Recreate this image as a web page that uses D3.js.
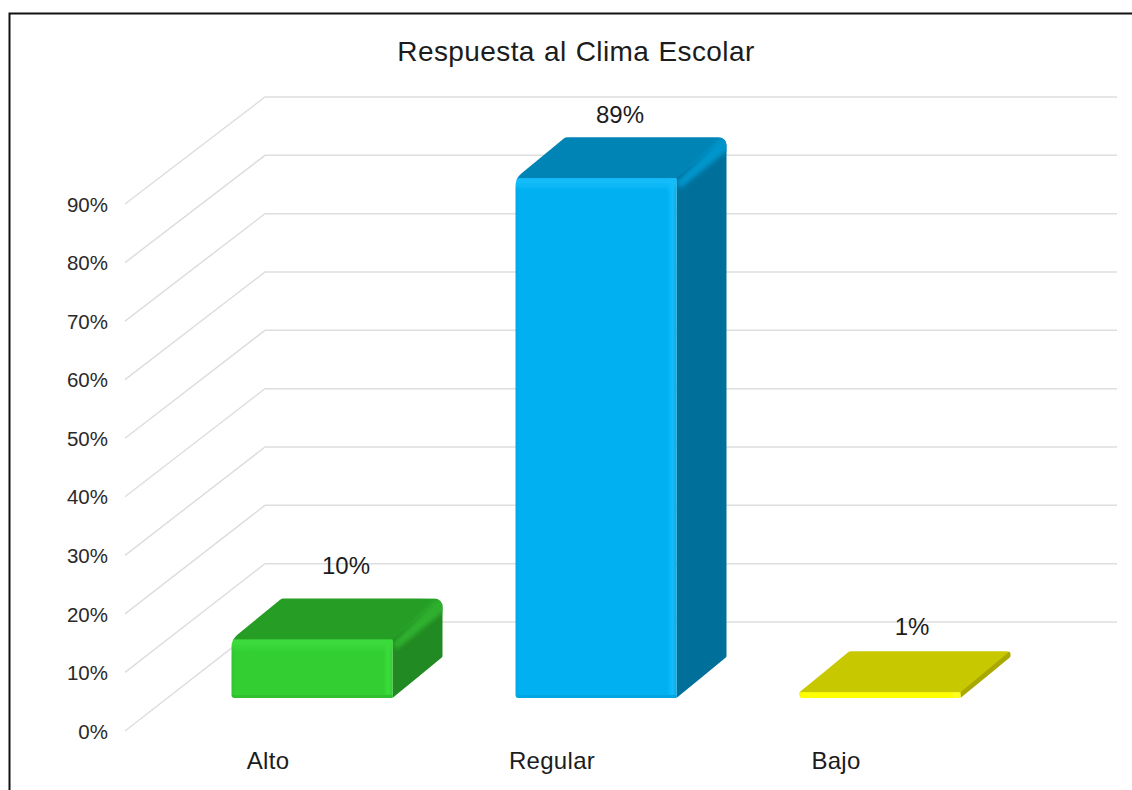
<!DOCTYPE html>
<html><head><meta charset="utf-8">
<script src="https://cdn.jsdelivr.net/npm/d3@7"></script>
<style>html,body{margin:0;padding:0;background:#fff}svg{display:block}text{font-family:"Liberation Sans",Arial,sans-serif;fill:#1c1c1c}</style>
</head><body><svg id="c" width="1132" height="790"></svg>
<script>
const title = "Respuesta al Clima Escolar";
const categories = ["Alto","Regular","Bajo"];
const values = [10,89,1];
const valueLabels = ["10%","89%","1%"];
const ticks = [0,10,20,30,40,50,60,70,80,90];

const palette = [
 {front:"#32CE32",edge:"#3BDB3B",shade:"#2DC02D",top:"#269E26",ridge:"#2DB02D",side:"#218A21"},
 {front:"#00B0F0",edge:"#14BCFA",shade:"#00A6E2",top:"#0084B6",ridge:"#0096CC",side:"#00709B"},
 {front:"#FFFF00",edge:"#FFFF30",shade:"#F4F400",top:"#C8C800",ridge:"#D8D800",side:"#A8A800"}
];
const labelShift = [[34,-25],[24,-14],[32,-16]];

const svg = d3.select("#c");
const yFront = d3.scaleLinear().domain([0,90]).range([731,204]);
const yBack = d3.scaleLinear().domain([0,90]).range([622,97]);
const yBar = d3.scaleLinear().domain([0,90]).range([698,172.4]);
const xCat = d3.scalePoint().domain(categories).range([268,836]);
const depthX = 140, barDX = 50, barDY = 41, barW = 161, barShift = 44;

// frame (top and left only)
svg.append("path").attr("d","M9.5,790V13.5H1132").attr("fill","none").attr("stroke","#111").attr("stroke-width",2);

// title
svg.append("text").attr("x",576).attr("y",61).attr("text-anchor","middle")
   .style("font-size","28px").style("word-spacing","1px").style("letter-spacing","0.4px").text(title);

// gridlines
const grid = svg.append("g").attr("fill","none").attr("stroke","#dedede").attr("stroke-width",1.5);
grid.selectAll("path").data(ticks).join("path")
  .attr("d",t=>{const p=d3.path();p.moveTo(125,yFront(t));p.lineTo(125+depthX,yBack(t));p.lineTo(1117,yBack(t));return p.toString();});

// axis labels
const axis = svg.append("g").attr("transform","translate(108,0)")
  .call(d3.axisLeft(yFront).tickValues(ticks).tickFormat(d=>d+"%").tickSize(0).tickPadding(0));
axis.select(".domain").remove();
axis.selectAll("text").style("font-size","20.5px").style("fill","#2a2a2a").attr("dy","0.35em");

// category labels
svg.append("g").selectAll("text").data(categories).join("text")
  .attr("x",d=>xCat(d)).attr("y",769).attr("text-anchor","middle").style("font-size","24px").style("letter-spacing","0.3px").text(d=>d);

// soft edge like the reference
const defs = svg.append("defs");
const addBlur=(id,sd)=>defs.append("filter").attr("id",id).attr("x","-20%").attr("y","-20%").attr("width","140%").attr("height","140%")
  .append("feGaussianBlur").attr("stdDeviation",sd);
addBlur("soft",0.6); addBlur("wide",2.2);

function rounded(pts){
  const p=d3.path(), n=pts.length;
  const m=(a,b)=>[(a[0]+b[0])/2,(a[1]+b[1])/2];
  const s=m(pts[n-1],pts[0]); p.moveTo(s[0],s[1]);
  pts.forEach((q,i)=>{const nx=pts[(i+1)%n],e=m(q,nx);p.arcTo(q[0],q[1],e[0],e[1],q[2]);p.lineTo(e[0],e[1]);});
  p.closePath(); return p.toString();
}
const poly = a => "M"+a.map(q=>q.join(",")).join("L")+"Z";

categories.forEach((c,i)=>{
  const col=palette[i];
  const x0=xCat(c)+barShift-barW/2, x1=x0+barW, yb=yBar(0), yt=yBar(values[i]);
  const h=yb-yt, tall=h>20;
  const id="clip"+i;
  const sil=[[x0,yb,3],[x1,yb,3],[x1+barDX,yb-barDY,2],[x1+barDX,yt-barDY,tall?8:3],[x0+barDX,yt-barDY,5],[x0,yt,tall?16:3]];
  defs.append("clipPath").attr("id",id).append("path").attr("d",rounded(sil));

  const gf=defs.append("linearGradient").attr("id","fh"+i);
  [[0,col.shade],[0.035,col.front],[0.94,col.front],[0.975,col.edge],[1,col.front]].forEach(s=>gf.append("stop").attr("offset",s[0]).attr("stop-color",s[1]));
  const gt=defs.append("linearGradient").attr("id","ft"+i).attr("x1",0).attr("x2",0).attr("y1",0).attr("y2",1);
  [[0,col.edge,1],[0.3,col.edge,1],[1,col.edge,0]].forEach(s=>gt.append("stop").attr("offset",s[0]).attr("stop-color",s[1]).attr("stop-opacity",s[2]));

  const outer=svg.append("g").attr("clip-path",`url(#${id})`);
  const g=outer.append("g").attr("filter","url(#soft)");
  // top
  g.append("path").attr("d",poly([[x0-4,yt+2],[x1,yt+2],[x1+barDX+3,yt-barDY],[x0+barDX,yt-barDY-3]])).attr("fill",col.top);
  // side
  g.append("path").attr("d",poly([[x1,yt],[x1+barDX+3,yt-barDY-3],[x1+barDX+3,yb-barDY+2],[x1,yb+3]])).attr("fill",col.side);
  // ridge between top and side: soft band
  if(tall) outer.append("path").attr("filter","url(#wide)")
    .attr("d",poly([[x1,yt+4],[x1+barDX-6,yt-barDY+1],[x1+barDX+6,yt-barDY-1],[x1+barDX+6,yt-barDY+9],[x1+4,yt+10]])).attr("fill",col.ridge);
  // front
  const f=outer.append("g").attr("filter","url(#soft)");
  f.append("rect").attr("x",x0-2).attr("y",yt).attr("width",barW+2).attr("height",h+3).attr("fill",`url(#fh${i})`);
  if(tall) f.append("rect").attr("x",x0-2).attr("y",yt).attr("width",barW+2).attr("height",13).attr("fill",`url(#ft${i})`);
  if(tall) f.append("rect").attr("x",x0-2).attr("y",yb-3).attr("width",barW+2).attr("height",4).attr("fill",col.shade);

  svg.append("text").attr("x",xCat(c)+barShift+labelShift[i][0]).attr("y",yt-barDY+labelShift[i][1])
    .attr("text-anchor","middle").style("font-size","24px").text(valueLabels[i]);
});
</script></body></html>
